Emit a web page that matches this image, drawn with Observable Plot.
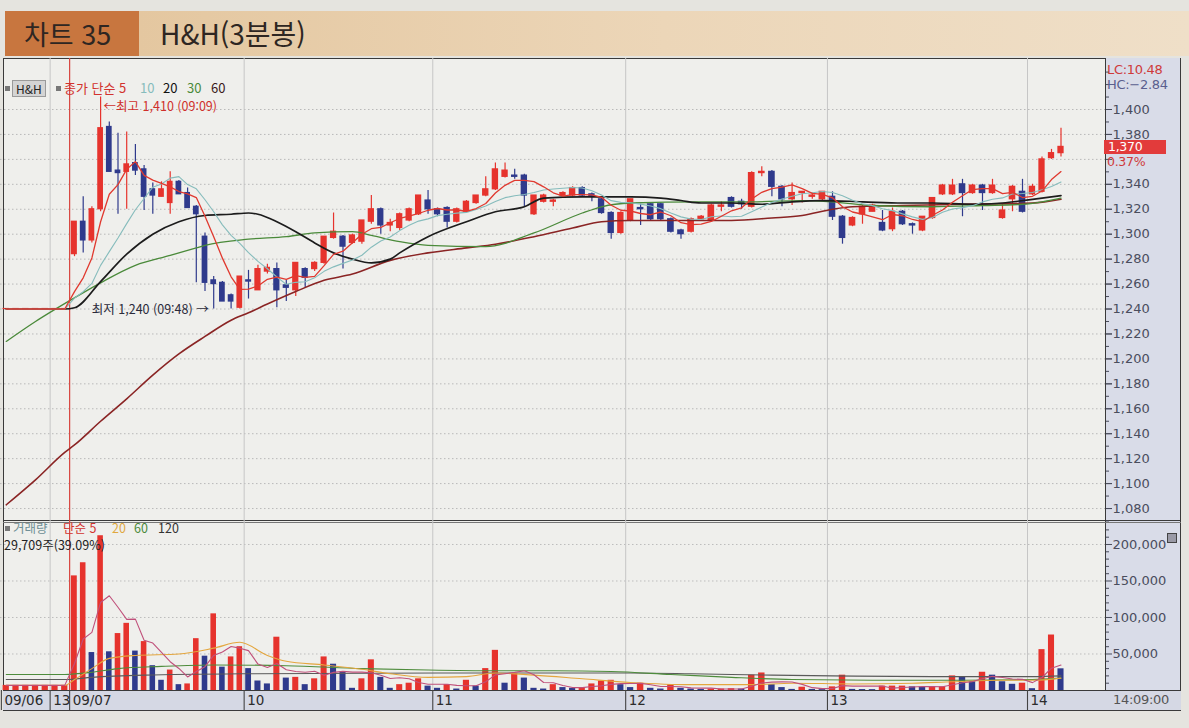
<!DOCTYPE html>
<html lang="ko">
<head>
<meta charset="utf-8">
<script src="https://cdn.jsdelivr.net/npm/d3@7"></script>
<script src="https://cdn.jsdelivr.net/npm/@observablehq/plot@0.6"></script>
<style>
  html,body{margin:0;padding:0;}
  body{width:1189px;height:728px;overflow:hidden;position:relative;background:#e5e4df;font-family:"Noto Sans CJK KR","Noto Sans",sans-serif;}
  .a{position:absolute;}
  #hdrBox{left:5px;top:11px;width:134px;height:45px;background:#c8763f;}
  #hdrBand{left:139px;top:11px;width:1050px;height:45px;background:linear-gradient(90deg,#e4c7a0,#ecd6b8 50%,#efdfc8);}
  .ttl{top:11px;height:45px;line-height:45px;font-size:27px;color:#2e2622;white-space:nowrap;}
  #frame{left:3px;top:58px;width:1178px;height:653px;border:1.6px solid #3a3a3a;box-sizing:border-box;background:#efefec;}
  #rpanel{left:1105px;top:58px;width:76px;height:653px;background:#d9dce8;border-left:1.3px solid #3a3a3a;border-right:1.6px solid #3a3a3a;box-sizing:border-box;}
  #strip{left:3px;top:690px;width:1178px;height:21px;background:#d5d8e4;border-top:1.3px solid #3a3a3a;border-bottom:1.6px solid #3a3a3a;box-sizing:border-box;}
  #sep{left:3px;top:520px;width:1178px;height:3px;border-top:1.3px solid #3a3a3a;border-bottom:1px solid #777;box-sizing:border-box;}
  .lg{font-size:13px;white-space:nowrap;line-height:15px;}
  .vl{font-size:12.5px;white-space:nowrap;line-height:14px;}
  .num{font-family:"DejaVu Sans",sans-serif;font-size:13px;white-space:nowrap;letter-spacing:-0.3px;}
  .sq{width:5px;height:5px;background:#777;}
</style>
</head>
<body>
<div id="hdrBox" class="a"></div>
<div id="hdrBand" class="a"></div>
<div class="a ttl" style="left:24px;">차트 35</div>
<div class="a ttl" style="left:160px;font-size:28px;">H&amp;H(3분봉)</div>

<div id="frame" class="a"></div>
<div id="rpanel" class="a"></div>
<div id="strip" class="a"></div>
<div id="sep" class="a"></div>

<div id="pricePlot" class="a" style="left:0;top:58px;"></div>
<div id="volPlot" class="a" style="left:0;top:521px;"></div>
<div id="stripPlot" class="a" style="left:0;top:690px;"></div>

<!-- price legend -->
<div class="a sq" style="left:5px;top:86px;"></div>
<div class="a lg" style="left:12px;top:80px;background:#d4d4d4;border:1px solid #9a9a9a;padding:0 3px;color:#222;font-size:12px;">H&amp;H</div>
<div class="a sq" style="left:56px;top:86px;"></div>
<div class="a lg" style="left:64px;top:80px;color:#d2322d;">종가 단순 5</div>
<div class="a lg" style="left:140px;top:80px;color:#86bcbc;">10</div>
<div class="a lg" style="left:163px;top:80px;color:#111;">20</div>
<div class="a lg" style="left:187px;top:80px;color:#4a8a3a;">30</div>
<div class="a lg" style="left:211px;top:80px;color:#3a1a1a;">60</div>
<!-- volume legend -->
<div class="a sq" style="left:5px;top:526px;"></div>
<div class="a vl" style="left:13px;top:521px;color:#6f8f96;">거래량</div>
<div class="a vl" style="left:63px;top:521px;color:#d2322d;">단순 5</div>
<div class="a vl" style="left:112px;top:521px;color:#e0a83e;">20</div>
<div class="a vl" style="left:134px;top:521px;color:#4a8a3a;">60</div>
<div class="a vl" style="left:158px;top:521px;color:#333;">120</div>
<div id="volLabel" class="a vl" style="left:4px;top:538px;color:#222;"></div>

<div id="lc" class="a num" style="left:1107px;top:62px;color:#cf3a3a;"></div>
<div id="hc" class="a num" style="left:1107px;top:77px;color:#5a5f8e;"></div>
<div id="lastBox" class="a num" style="left:1104px;width:62px;height:14px;line-height:14px;font-size:12.5px;background:#e23b3b;color:#fff;padding-left:4px;box-sizing:border-box;"></div>
<div id="lastPct" class="a num" style="left:1107px;color:#cf3a3a;line-height:14px;font-size:12.5px;"></div>
<div class="a" style="left:1167px;top:533px;width:8px;height:8px;background:#9a9aa6;border:1px solid #444;"></div>
<div class="a num" style="left:1113px;top:692px;color:#555;">14:09:00</div>

<script>
// ---------- data (3-minute bars; first 7 bars are the end of 09/06) ----------
const firstIndex = -7;
const open = [1240,1240,1240,1240,1240,1240,1240,
  1284,1310,1295,1320,1386,1351,1350,1357,1352,1336,1330,1325,1342,1333,1322,1298,1263,1261,1251,1241,
  1263,1255,1270,1272,1259,1255,1272,1272,1277,1297,1298,1293,1294,1310,1320,1307,1305,1311,1316,1327,
  1320,1321,1310,1318,1325,1331,1336,1346,1347,1347,1316,1326,1326,1331,1331,1337,1332,1328,1317,1301,
  1311,1321,1324,1324,1312,1303,1302,1312,1311,1322,1329,1326,1322,1349,1350,1338,1328,1333,1330,1328,
  1330,1314,1307,1316,1318,1309,1304,1318,1308,1303,1313,1332,1332,1340,1333,1339,1333,1313,1328,1334,
  1332,1334,1361,1365];
const high = [1240,1240,1240,1240,1240,1240,1240,
  1310,1330,1322,1410,1390,1381,1382,1372,1355,1341,1342,1350,1343,1337,1323,1301,1266,1262,1252,1266,
  1271,1275,1276,1277,1263,1277,1273,1278,1298,1317,1299,1300,1311,1331,1321,1312,1317,1321,1331,1335,
  1321,1322,1321,1327,1331,1346,1357,1357,1352,1348,1331,1332,1328,1334,1338,1338,1333,1329,1318,1318,
  1328,1324,1325,1325,1313,1304,1313,1315,1324,1326,1330,1328,1350,1354,1351,1339,1341,1334,1333,1334,
  1334,1315,1314,1323,1324,1319,1321,1319,1309,1314,1329,1340,1344,1344,1340,1340,1344,1324,1339,1344,
  1340,1362,1368,1385];
const low = [1240,1240,1240,1240,1240,1240,1240,
  1282,1285,1293,1318,1350,1316,1320,1347,1319,1316,1330,1316,1332,1321,1261,1254,1240,1246,1240,1240,
  1248,1255,1268,1241,1246,1250,1257,1270,1276,1296,1272,1292,1292,1308,1300,1302,1303,1310,1315,1316,
  1314,1305,1309,1317,1324,1330,1335,1345,1344,1322,1315,1325,1322,1330,1330,1330,1326,1316,1296,1300,
  1310,1307,1311,1311,1301,1296,1301,1311,1310,1318,1321,1320,1321,1346,1330,1322,1323,1325,1328,1327,
  1311,1292,1306,1308,1318,1302,1302,1307,1300,1302,1312,1331,1331,1314,1332,1319,1332,1312,1318,1317,
  1331,1333,1360,1362];
const close = [1240,1240,1240,1240,1240,1240,1240,
  1310,1295,1320,1385,1350,1349,1356,1351,1330,1331,1336,1342,1332,1321,1316,1261,1260,1246,1246,1266,
  1262,1272,1273,1255,1257,1277,1265,1277,1298,1302,1290,1299,1311,1320,1307,1309,1316,1320,1331,1320,
  1316,1310,1320,1326,1331,1336,1352,1351,1346,1331,1331,1331,1327,1333,1337,1331,1330,1317,1301,1317,
  1328,1320,1312,1312,1302,1300,1312,1314,1323,1323,1322,1324,1349,1350,1338,1328,1333,1334,1331,1334,
  1314,1297,1313,1322,1323,1303,1318,1308,1307,1314,1329,1339,1339,1333,1339,1333,1339,1319,1338,1318,
  1338,1360,1365,1370];
const volume = [7000,7000,7000,7000,7000,7000,7000,
  157000,175000,52000,212000,53000,78000,92000,54000,67000,34000,14000,28000,8000,9000,71000,47000,105000,32000,46000,60000,
  30000,13000,9000,73000,17000,18000,8000,16000,46000,36000,25000,3000,16000,42000,18000,3000,8000,10000,16000,6000,
  3000,8000,2000,14000,6000,30000,55000,10000,23000,17000,3000,2000,8000,4000,3000,3000,9000,13000,14000,8000,
  4000,10000,3000,2000,8000,3000,2000,1500,2000,2000,2500,2000,21000,24000,8000,4000,1500,4500,1500,1200,
  5000,21000,1500,1300,1200,6000,6000,6000,5000,4500,5000,5000,20000,19000,12000,25000,21000,12000,8500,10000,
  2500,56000,76000,29709];

// moving averages: [bar index, value]
const ma20 = [[-7,1240],[-1,1240],[0,1241],[3,1262],[6,1284],[9,1300],[12,1310],[15,1315],[18,1316],[20,1317],[21,1316],[23,1310],[25,1302],[27,1293],[29,1285],[31,1280],[33,1277],[35,1280],[36,1285],[39,1298],[43,1310],[46,1318],[49,1322],[51,1329],[55,1330],[60,1330],[63,1329],[65,1327],[67,1325],[70,1325],[73,1324],[76,1326],[79,1327],[83,1326],[87,1325],[90,1325],[94,1324],[97,1325],[100,1328],[103,1331]];
const ma30 = [[-7,1214],[-4,1230],[0,1249],[3,1261],[7,1275],[11,1283],[14,1289],[15,1291],[20,1296],[24,1298],[27,1301],[31,1302],[33,1299],[36,1294],[39,1291],[45,1290],[50,1301],[55,1317],[57,1322],[60,1325],[67,1326],[72,1326],[77,1327],[80,1326],[84,1323],[90,1322],[95,1323],[99,1324],[101,1326],[103,1329]];
const ma60 = [[-7,1083],[-4,1103],[-1,1125],[0,1131],[3,1150],[6,1168],[9,1187],[12,1204],[15,1218],[18,1231],[20,1237],[22,1244],[25,1254],[28,1263],[31,1268],[35,1279],[39,1285],[43,1289],[46,1292],[50,1298],[54,1305],[57,1310],[60,1311],[64,1311],[70,1311],[74,1313],[77,1315],[80,1320],[82,1322],[87,1323],[93,1324],[100,1325],[103,1328]];
const vma20 = [[-7,7000],[-1,7000],[0,15000],[2,30000],[4,44000],[7,48000],[12,50000],[16,58000],[19,66000],[22,48000],[24,40000],[28,35000],[32,29000],[35,23000],[39,18000],[43,19000],[46,24000],[50,21000],[55,16000],[60,11000],[66,8000],[72,8000],[76,10000],[82,9000],[88,10000],[92,12000],[97,14000],[100,14000],[103,17000]];
const vma60 = [[-7,22000],[-1,22000],[2,25000],[5,30000],[10,33000],[16,35000],[24,34000],[32,30000],[39,28000],[46,27000],[52,27000],[58,26000],[64,22000],[70,18000],[76,15000],[84,14000],[92,14000],[100,15000],[103,17000]];
const vma120 = [[-7,15000],[-1,15000],[2,18000],[8,21000],[20,23000],[40,24000],[60,24000],[66,23000],[74,21000],[80,20000],[90,19000],[100,19000],[103,20000]];

const priceTicks = [1080,1100,1120,1140,1160,1180,1200,1220,1240,1260,1280,1300,1320,1340,1360,1380,1400];
const priceMinor = [1070,1090,1110,1130,1150,1170,1190,1210,1230,1250,1270,1290,1310,1330,1350,1370,1390,1410,1420,1430];
const volTicks = [50000,100000,150000,200000];
const volMinor = [10000,20000,30000,40000,60000,70000,80000,90000,110000,120000,130000,140000,160000,170000,180000,190000,210000,220000];
const stripIndex = [-7,-2,0,20,40,60,80,100];
const stripLabels = ["09/06","13","09/07","10","11","12","13","14"];
const hourIndex = [-2,20,40,60,80,100];
const dayStart = 0;

// ---------- build ----------
const UP = "#e6332d", DOWN = "#2f3a8c";
const bars = open.map((o, k) => ({i: firstIndex + k, o, h: high[k], l: low[k], c: close[k], v: volume[k]}));
bars.forEach((d, k) => { d.up = d.c >= d.o; d.vup = k === 0 || d.v >= bars[k - 1].v; });
const today = bars.filter(d => d.i >= dayStart);
const two = d3.format("02");
const hhmm = i => { const m = 540 + 3 * i; return two(Math.floor(m / 60)) + ":" + two(m % 60); };
const fmt = d3.format(",");
const maxBar = d3.greatest(today, d => d.h);
const minBar = d3.least(today, d => d.l);
const prevClose = bars[bars.indexOf(today[0]) - 1].c;
const last = bars[bars.length - 1], prev = bars[bars.length - 2];
// the last-price box covers the tick label just below it (as in the original)
const labelTicks = priceTicks.filter(t => t > last.c || last.c - t > 12);

// x scale (piecewise to follow the photographed time axis)
const xs = {type: "linear", domain: [-8, 0, 20, 40, 60, 80, 100, 104], range: [-4, 74, 248, 437, 630, 832, 1032, 1070], axis: null};
const W = 1185, MR = 80;
const axisFont = {background: "transparent", overflow: "visible", fontFamily: "'DejaVu Sans', sans-serif", fontSize: "13px", color: "#4a4d5d"};
const kr = "'Noto Sans CJK KR', sans-serif";
const line = (arr, stroke, w) => Plot.line(arr, {x: d => d[0], y: d => d[1], stroke, strokeWidth: w, curve: "monotone-x"});

const price = Plot.plot({
  width: W, height: 463, marginTop: 0, marginBottom: 0, marginLeft: 0, marginRight: MR,
  style: axisFont,
  x: xs,
  y: {domain: [1069.6, 1440.9], label: null},
  marks: [
    Plot.ruleY(priceTicks, {stroke: "#b9b9b9", strokeDasharray: "1.5,2.5"}),
    Plot.ruleX(hourIndex, {x: d => d - 0.5, stroke: "#c6c6c6"}),
    Plot.ruleX([dayStart], {x: d => d - 0.5, stroke: "#d8453f", strokeWidth: 1.2}),
    Plot.ruleX(bars, {x: "i", y1: "l", y2: "h", stroke: d => d.up ? UP : DOWN, strokeWidth: 1.2}),
    Plot.rect(bars, {x1: d => d.i - 0.33, x2: d => d.i + 0.33, y1: "o", y2: "c", fill: d => d.up ? UP : DOWN, insetTop: -0.6, insetBottom: -0.6}),
    line(ma60, "#8a2424", 1.6),
    line(ma30, "#4a8a3a", 1.3),
    line(ma20, "#1c1c1c", 1.7),
    Plot.lineY(bars, Plot.windowY({k: 10, anchor: "end"}, {x: "i", y: "c", stroke: "#86bcbc", strokeWidth: 1.1})),
    Plot.lineY(bars, Plot.windowY({k: 5, anchor: "end"}, {x: "i", y: "c", stroke: "#e0392f", strokeWidth: 1.3})),
    Plot.text([maxBar], {x: "i", y: "h", dx: 3, dy: 10, textAnchor: "start", text: d => `←최고 ${fmt(d.h)} (${hhmm(d.i)})`, fill: "#cf2f2a", fontSize: 12.5, fontFamily: kr}),
    Plot.text([minBar], {x: "i", y: "l", dx: -5, dy: 1, textAnchor: "end", text: d => `최저 ${fmt(d.l)} (${hhmm(d.i)}) →`, fill: "#2a2a3a", fontSize: 12.5, fontFamily: kr}),
    Plot.axisY(priceMinor, {anchor: "right", tickSize: 3, tickFormat: () => "", label: null}),
    Plot.axisY(priceTicks, {anchor: "right", tickSize: 6, tickFormat: () => "", label: null}),
    Plot.axisY(labelTicks, {anchor: "right", tickSize: 6, tickPadding: 1, tickFormat: fmt, label: null})
  ]
});
document.getElementById("pricePlot").append(price);

const vol = Plot.plot({
  width: W, height: 169, marginTop: 0, marginBottom: 0, marginLeft: 0, marginRight: MR,
  style: axisFont,
  x: xs,
  y: {domain: [0, 231500], label: null},
  marks: [
    Plot.ruleY(volTicks, {stroke: "#bdbdbd", strokeDasharray: "1.5,2.5"}),
    Plot.ruleX(hourIndex, {x: d => d - 0.5, stroke: "#c6c6c6"}),
    Plot.ruleX([dayStart], {x: d => d - 0.5, stroke: "#d8453f", strokeWidth: 1.2}),
    Plot.rect(bars, {x1: d => d.i - 0.32, x2: d => d.i + 0.32, y1: 0, y2: "v", fill: d => d.vup ? UP : DOWN}),
    line(vma120, "#5a5a5a", 1.1),
    line(vma60, "#4e8c3c", 1.1),
    line(vma20, "#e4a63e", 1.1),
    Plot.lineY(bars, Plot.windowY({k: 5, anchor: "end"}, {x: "i", y: "v", stroke: "#c0507a", strokeWidth: 1.1})),
    Plot.axisY(volMinor, {anchor: "right", tickSize: 3, tickFormat: () => "", label: null}),
    Plot.axisY(volTicks, {anchor: "right", tickSize: 6, tickPadding: 1, tickFormat: fmt, label: null})
  ]
});
document.getElementById("volPlot").append(vol);

const strip = Plot.plot({
  width: W, height: 20, marginTop: 0, marginBottom: 0, marginLeft: 0, marginRight: MR,
  style: {background: "transparent", overflow: "visible", fontFamily: "'DejaVu Sans', sans-serif", fontSize: "13.5px"},
  x: xs,
  marks: [
    Plot.ruleX(stripIndex, {x: d => d - 0.5, stroke: "#444", strokeWidth: 1.1}),
    Plot.text(stripIndex, {x: d => d - 0.5, text: (d, k) => stripLabels[k], textAnchor: "start", dx: 3, frameAnchor: "middle", fill: "#2c2c2c"})
  ]
});
document.getElementById("stripPlot").append(strip);

// texts that depend on the data
const pct = d3.format(".2f");
document.getElementById("lc").textContent = "LC:" + pct((last.c - prevClose) / prevClose * 100);
document.getElementById("hc").textContent = "HC:" + pct((last.c - maxBar.h) / maxBar.h * 100);
const yLast = 58 + price.scale("y").apply(last.c);
const box = document.getElementById("lastBox");
box.textContent = fmt(last.c);
box.style.top = (yLast - 6) + "px";
const lp = document.getElementById("lastPct");
lp.textContent = pct((last.c - prev.c) / prev.c * 100) + "%";
lp.style.top = (yLast + 9) + "px";
document.getElementById("volLabel").textContent = `${fmt(last.v)}주(${pct(last.v / prev.v * 100)}%)`;
</script>
</body>
</html>
